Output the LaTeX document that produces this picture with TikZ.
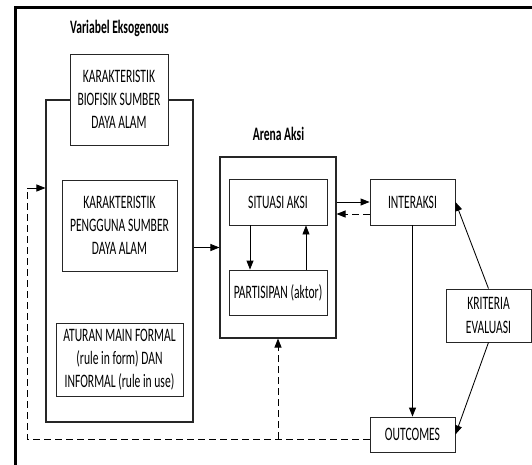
\documentclass[tikz,border=0pt]{standalone}
\usepackage{fontspec}
\setmainfont{Carlito}[FakeStretch=0.61]
\usetikzlibrary{arrows.meta}
\begin{document}
\begin{tikzpicture}[x=1pt,y=-1pt,
  box/.style={draw=black!85,line width=0.85pt,fill=white,inner sep=0pt,align=center,
    font=\fontsize{19}{23.3}\selectfont},
  frame/.style={draw=black!85,line width=1.05pt},
  arr/.style={-{Triangle[length=9pt,width=7pt]},line width=0.85pt},
  dsh/.style={dash pattern=on 7pt off 4pt,line width=0.9pt},
  ttl/.style={font=\fontsize{19}{23.3}\selectfont\bfseries,inner sep=0pt}]
\useasboundingbox (0,0) rectangle (532,464);
\clip (0,0) rectangle (532,464);
% outer frame (top and left)
\draw[line width=3pt] (15,470) -- (15,7) -- (540,7);
% titles
\node[ttl] (tve) at (119.5,28) {Variabel Eksogenous};
\node[ttl] (tar) at (278.5,134) {Arena Aksi};
% containers
\node[frame,inner sep=0pt,minimum width=147pt,minimum height=322pt] (cont) at (119.5,261) {};
\node[frame,inner sep=0pt,minimum width=116pt,minimum height=181pt] (arena) at (278,247.5) {};
% boxes
\node[box,minimum width=98pt,minimum height=91pt] (bio) at (119,99.5) {KARAKTERISTIK\\BIOFISIK SUMBER\\DAYA ALAM};
\node[box,minimum width=115pt,minimum height=91pt] (peng) at (119.5,225.5) {KARAKTERISTIK\\PENGGUNA SUMBER\\DAYA ALAM};
\node[box,minimum width=127pt,minimum height=73pt] (atur) at (119.5,359.5) {ATURAN MAIN FORMAL\\(rule in form) DAN\\INFORMAL (rule in use)};
\node[box,minimum width=98pt,minimum height=46pt] (sit) at (278,202) {SITUASI AKSI};
\node[box,minimum width=98pt,minimum height=45pt] (part) at (278,292.5) {PARTISIPAN (aktor)};
\node[box,minimum width=85pt,minimum height=46pt] (inter) at (412.5,202) {INTERAKSI};
\node[box,minimum width=85pt,minimum height=35pt] (out) at (412.5,434.5) {OUTCOMES};
\node[box,minimum width=85pt,minimum height=53pt] (krit) at (488.5,315.5) {KRITERIA\\EVALUASI};
% connectors
\draw[arr] (cont.east |- arena.west) -- (arena.west);
\draw[arr] ([xshift=-28pt]sit.south) -- ([xshift=-28pt]part.north);
\draw[arr] ([xshift=28pt]part.north) -- ([xshift=28pt]sit.south);
\draw[arr] (arena.east |- inter.west) -- (inter.west);
\coordinate (d1) at ([yshift=-12pt]inter.west);
\draw[arr,dsh] (d1) -- (d1 -| arena.east);
\draw[arr] (inter.south) -- (out.north);
\draw[arr] (krit.north) -- (inter.east);
\draw[arr] (krit.south) -- (out.east);
% dashed feedback
\coordinate (fbc) at (27,439);
\coordinate (fbt) at (27,188);
\draw[dsh] (out.west |- fbc) -- (fbc) -- (fbt);
\draw[arr] (fbt) -- (fbt -| cont.west);
\draw[arr,dsh] (arena.south |- fbc) -- (arena.south);
\end{tikzpicture}
\end{document}
